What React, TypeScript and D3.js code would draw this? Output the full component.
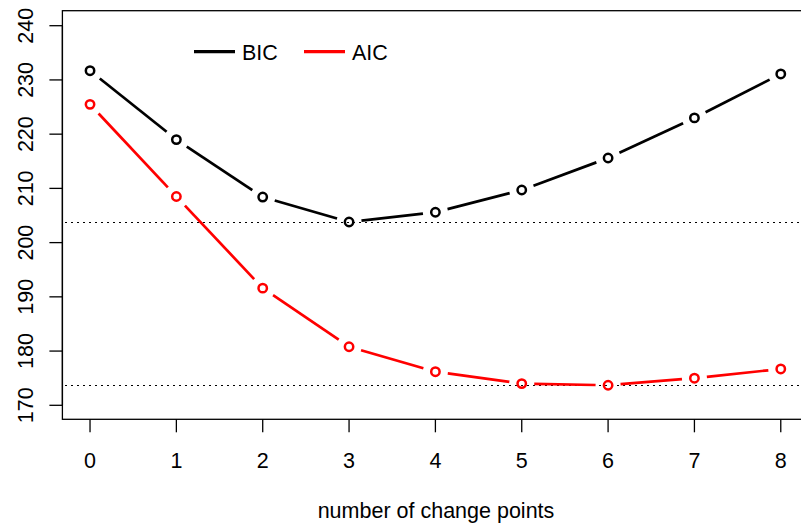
import React from "react";
import * as d3 from "d3";

const changePoints = [0, 1, 2, 3, 4, 5, 6, 7, 8];
const bicValues = [231.7, 219.0, 208.4, 203.8, 205.6, 209.7, 215.6, 223.0, 231.1];
const aicValues = [225.5, 208.5, 191.6, 180.8, 176.2, 174.0, 173.7, 175.0, 176.7];
const yTicks = [170, 180, 190, 200, 210, 220, 230, 240];
const xTicks = [0, 1, 2, 3, 4, 5, 6, 7, 8];

const W = 801;
const H = 527;
const FONT = "'Liberation Sans', Arial, Helvetica, sans-serif";
const FS = 21.5;

export default function App() {
  const x = d3.scaleLinear().domain([-0.32, 8.32]).range([62.4, 808.4]);
  const y = d3.scaleLinear().domain([170, 240]).range([405.3, 25.7]);
  const boxTop = 10.7;
  const boxBottom = 419.3;
  const boxLeft = 62.4;
  const boxRight = 808.4;
  const gap = 12.5;

  const series = [
    { name: "BIC", values: bicValues, color: "#000000" },
    { name: "AIC", values: aicValues, color: "#ff0000" },
  ];

  const segs = (vals: number[]) => {
    const out: { x1: number; y1: number; x2: number; y2: number }[] = [];
    for (let i = 0; i < vals.length - 1; i++) {
      const ax = x(changePoints[i]);
      const ay = y(vals[i]);
      const bx = x(changePoints[i + 1]);
      const by = y(vals[i + 1]);
      const dx = bx - ax;
      const dy = by - ay;
      const len = Math.sqrt(dx * dx + dy * dy);
      if (len <= 2 * gap) continue;
      const ux = dx / len;
      const uy = dy / len;
      out.push({ x1: ax + ux * gap, y1: ay + uy * gap, x2: bx - ux * gap, y2: by - uy * gap });
    }
    return out;
  };

  const minBic = d3.min(bicValues) as number;
  const minAic = d3.min(aicValues) as number;

  return (
    <div style={{ position: "absolute", left: 0, top: 0 }}>
      <svg width={W} height={H} style={{ display: "block", background: "#fff" }} fontFamily={FONT}>
        <defs>
          <clipPath id="plotclip">
            <rect x={boxLeft} y={boxTop} width={boxRight - boxLeft} height={boxBottom - boxTop} />
          </clipPath>
        </defs>
        <g clipPath="url(#plotclip)">
          {[minBic, minAic].map((v, i) => (
            <line
              key={i}
              x1={boxLeft + 3}
              x2={boxRight}
              y1={Math.round(y(v)) + 0.5}
              y2={Math.round(y(v)) + 0.5}
              stroke="#000"
              strokeWidth={1.2}
              strokeDasharray="1.2 4.8"
              shapeRendering="crispEdges"
            />
          ))}
        </g>
        {series.map((s) => (
          <g key={s.name}>
            {segs(s.values).map((g, i) => (
              <line key={i} x1={g.x1} y1={g.y1} x2={g.x2} y2={g.y2} stroke={s.color} strokeWidth={2.7} />
            ))}
            {s.values.map((v, i) => (
              <circle key={i} cx={x(changePoints[i])} cy={y(v)} r={4.2} fill="none" stroke={s.color} strokeWidth={2.5} />
            ))}
          </g>
        ))}
        <rect x={boxLeft} y={boxTop} width={boxRight - boxLeft} height={boxBottom - boxTop} fill="none" stroke="#000" strokeWidth={1.3} />
        <line x1={boxLeft} x2={boxLeft} y1={y(170)} y2={y(240)} stroke="#000" strokeWidth={1.3} />
        {yTicks.map((t) => (
          <g key={t}>
            <line x1={boxLeft - 13} x2={boxLeft} y1={y(t)} y2={y(t)} stroke="#000" strokeWidth={1.3} />
            <text transform={`translate(${33},${y(t)}) rotate(-90)`} textAnchor="middle" fontSize={FS} fill="#000">
              {t}
            </text>
          </g>
        ))}
        {xTicks.map((t) => (
          <g key={t}>
            <line x1={x(t)} x2={x(t)} y1={boxBottom} y2={boxBottom + 13} stroke="#000" strokeWidth={1.3} />
            <text x={x(t)} y={467.5} textAnchor="middle" fontSize={FS} fill="#000">
              {t}
            </text>
          </g>
        ))}
        <text x={436} y={518} textAnchor="middle" fontSize={FS} fill="#000">
          number of change points
        </text>
        {series.map((s, i) => {
          const lx = 194 + i * 110;
          return (
            <g key={s.name}>
              <line x1={lx} x2={lx + 41} y1={51.7} y2={51.7} stroke={s.color} strokeWidth={3.2} />
              <text x={lx + 48} y={59.5} fontSize={FS} fill="#000">
                {s.name}
              </text>
            </g>
          );
        })}
      </svg>
    </div>
  );
}
